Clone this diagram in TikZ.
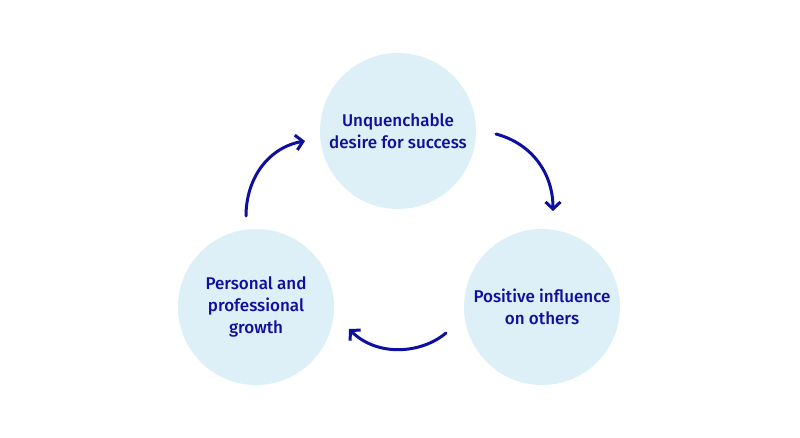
\documentclass[tikz,border=0pt]{standalone}
\usepackage{fontspec}
\setmainfont{Fira Sans}[BoldFont={Fira Sans Medium}]
\usetikzlibrary{arrows.meta}
\definecolor{cycblue}{RGB}{14,14,160}
\definecolor{cycfill}{RGB}{221,239,247}
\tikzset{
  stage/.style={circle, fill=cycfill, minimum size=156pt, inner sep=0pt,
    align=center, text=cycblue, font=\fontsize{17}{22}\selectfont\bfseries},
  loop/.style={draw=cycblue, line width=3pt, line cap=round,
    -{Straight Barb[length=7pt,width=15pt,line width=3pt]}}
}
\begin{document}
\begin{tikzpicture}[x=1pt,y=1pt]
\useasboundingbox[fill=white] (0,0) rectangle (800,437);
% the three stages
\node[stage] (desire) at (398,306) {Unquenchable\\desire for success};
\node[stage] (influence) at (542,130) {Positive influence\\on others};
\node[stage] (growth) at (256,130) {Personal and\\professional\\growth};
% arrow ends
\coordinate (a1) at (496,303);
\coordinate (b1) at (553,226);
\coordinate (a2) at (446,104);
\coordinate (b2) at (349,108);
\coordinate (a3) at (246,221);
\coordinate (b3) at (305,296);
% cycle
\draw[loop] (a1) to[out=-15, in=90] (b1);
\draw[loop] (a2) .. controls (421,83) and (377,80) .. (b2);
\draw[loop] (a3) to[out=90, in=190] (b3);
\end{tikzpicture}
\end{document}
